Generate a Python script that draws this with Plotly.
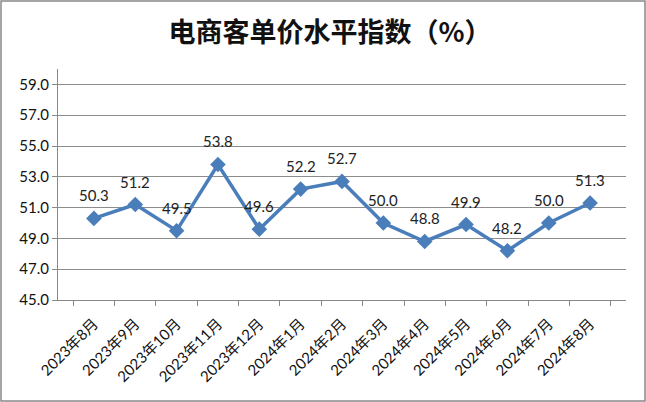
import plotly.graph_objects as go

categories = ["2023年8月", "2023年9月", "2023年10月", "2023年11月", "2023年12月",
              "2024年1月", "2024年2月", "2024年3月", "2024年4月", "2024年5月",
              "2024年6月", "2024年7月", "2024年8月"]
values = [50.3, 51.2, 49.5, 53.8, 49.6, 52.2, 52.7, 50.0, 48.8, 49.9, 48.2, 50.0, 51.3]
y_ticks = [45, 47, 49, 51, 53, 55, 57, 59]

W, H = 646, 402
L, R, T, B = 58, 20, 69, 102
pw, ph = W - L - R, H - T - B

font = "Lato, Noto Sans CJK SC, sans-serif"
blue = "#4A7EBB"

fig = go.Figure(go.Scatter(
    x=categories, y=values, mode="lines+markers",
    line=dict(color=blue, width=3.5),
    marker=dict(symbol="diamond", size=12, color=blue),
    cliponaxis=False, hoverinfo="skip"))

for c, v in zip(categories, values):
    fig.add_annotation(x=c, y=v, text=f"{v:.1f}", showarrow=False, yshift=23,
                       font=dict(size=15, color="#222", family=font))

fig.update_layout(
    width=W, height=H, margin=dict(l=L, r=R, t=T, b=B),
    paper_bgcolor="white", plot_bgcolor="white", showlegend=False,
    title=dict(text="<b>电商客单价水平指数（%）</b>", x=0.511, xref="container", xanchor="center",
               y=1 - 33 / H, yref="container", yanchor="middle",
               font=dict(size=27, color="#111", family="Noto Sans CJK SC")),
    xaxis=dict(type="category", tickangle=-45, tickson="boundaries",
               ticks="outside", ticklen=5, tickcolor="#888", ticklabelstandoff=8,
               showline=True, linecolor="#888", linewidth=1, showgrid=False,
               tickfont=dict(size=15, color="#111", family=font)),
    yaxis=dict(range=[45, 60], tickvals=y_ticks, ticktext=[f"{v:.1f}" for v in y_ticks],
               ticks="outside", ticklen=5, tickcolor="#888",
               showline=True, linecolor="#888", linewidth=1,
               showgrid=True, gridcolor="#8c8c8c", gridwidth=1, zeroline=False,
               tickfont=dict(size=15, color="#111", family=font)),
    shapes=[dict(type="rect", xref="paper", yref="paper",
                 x0=(1 - L) / pw, x1=(W - 1 - L) / pw,
                 y0=(T + ph - (H - 1)) / ph, y1=(T + ph - 1) / ph,
                 line=dict(color="#888", width=1.5), layer="below")],
)

fig.write_html("out.html")
